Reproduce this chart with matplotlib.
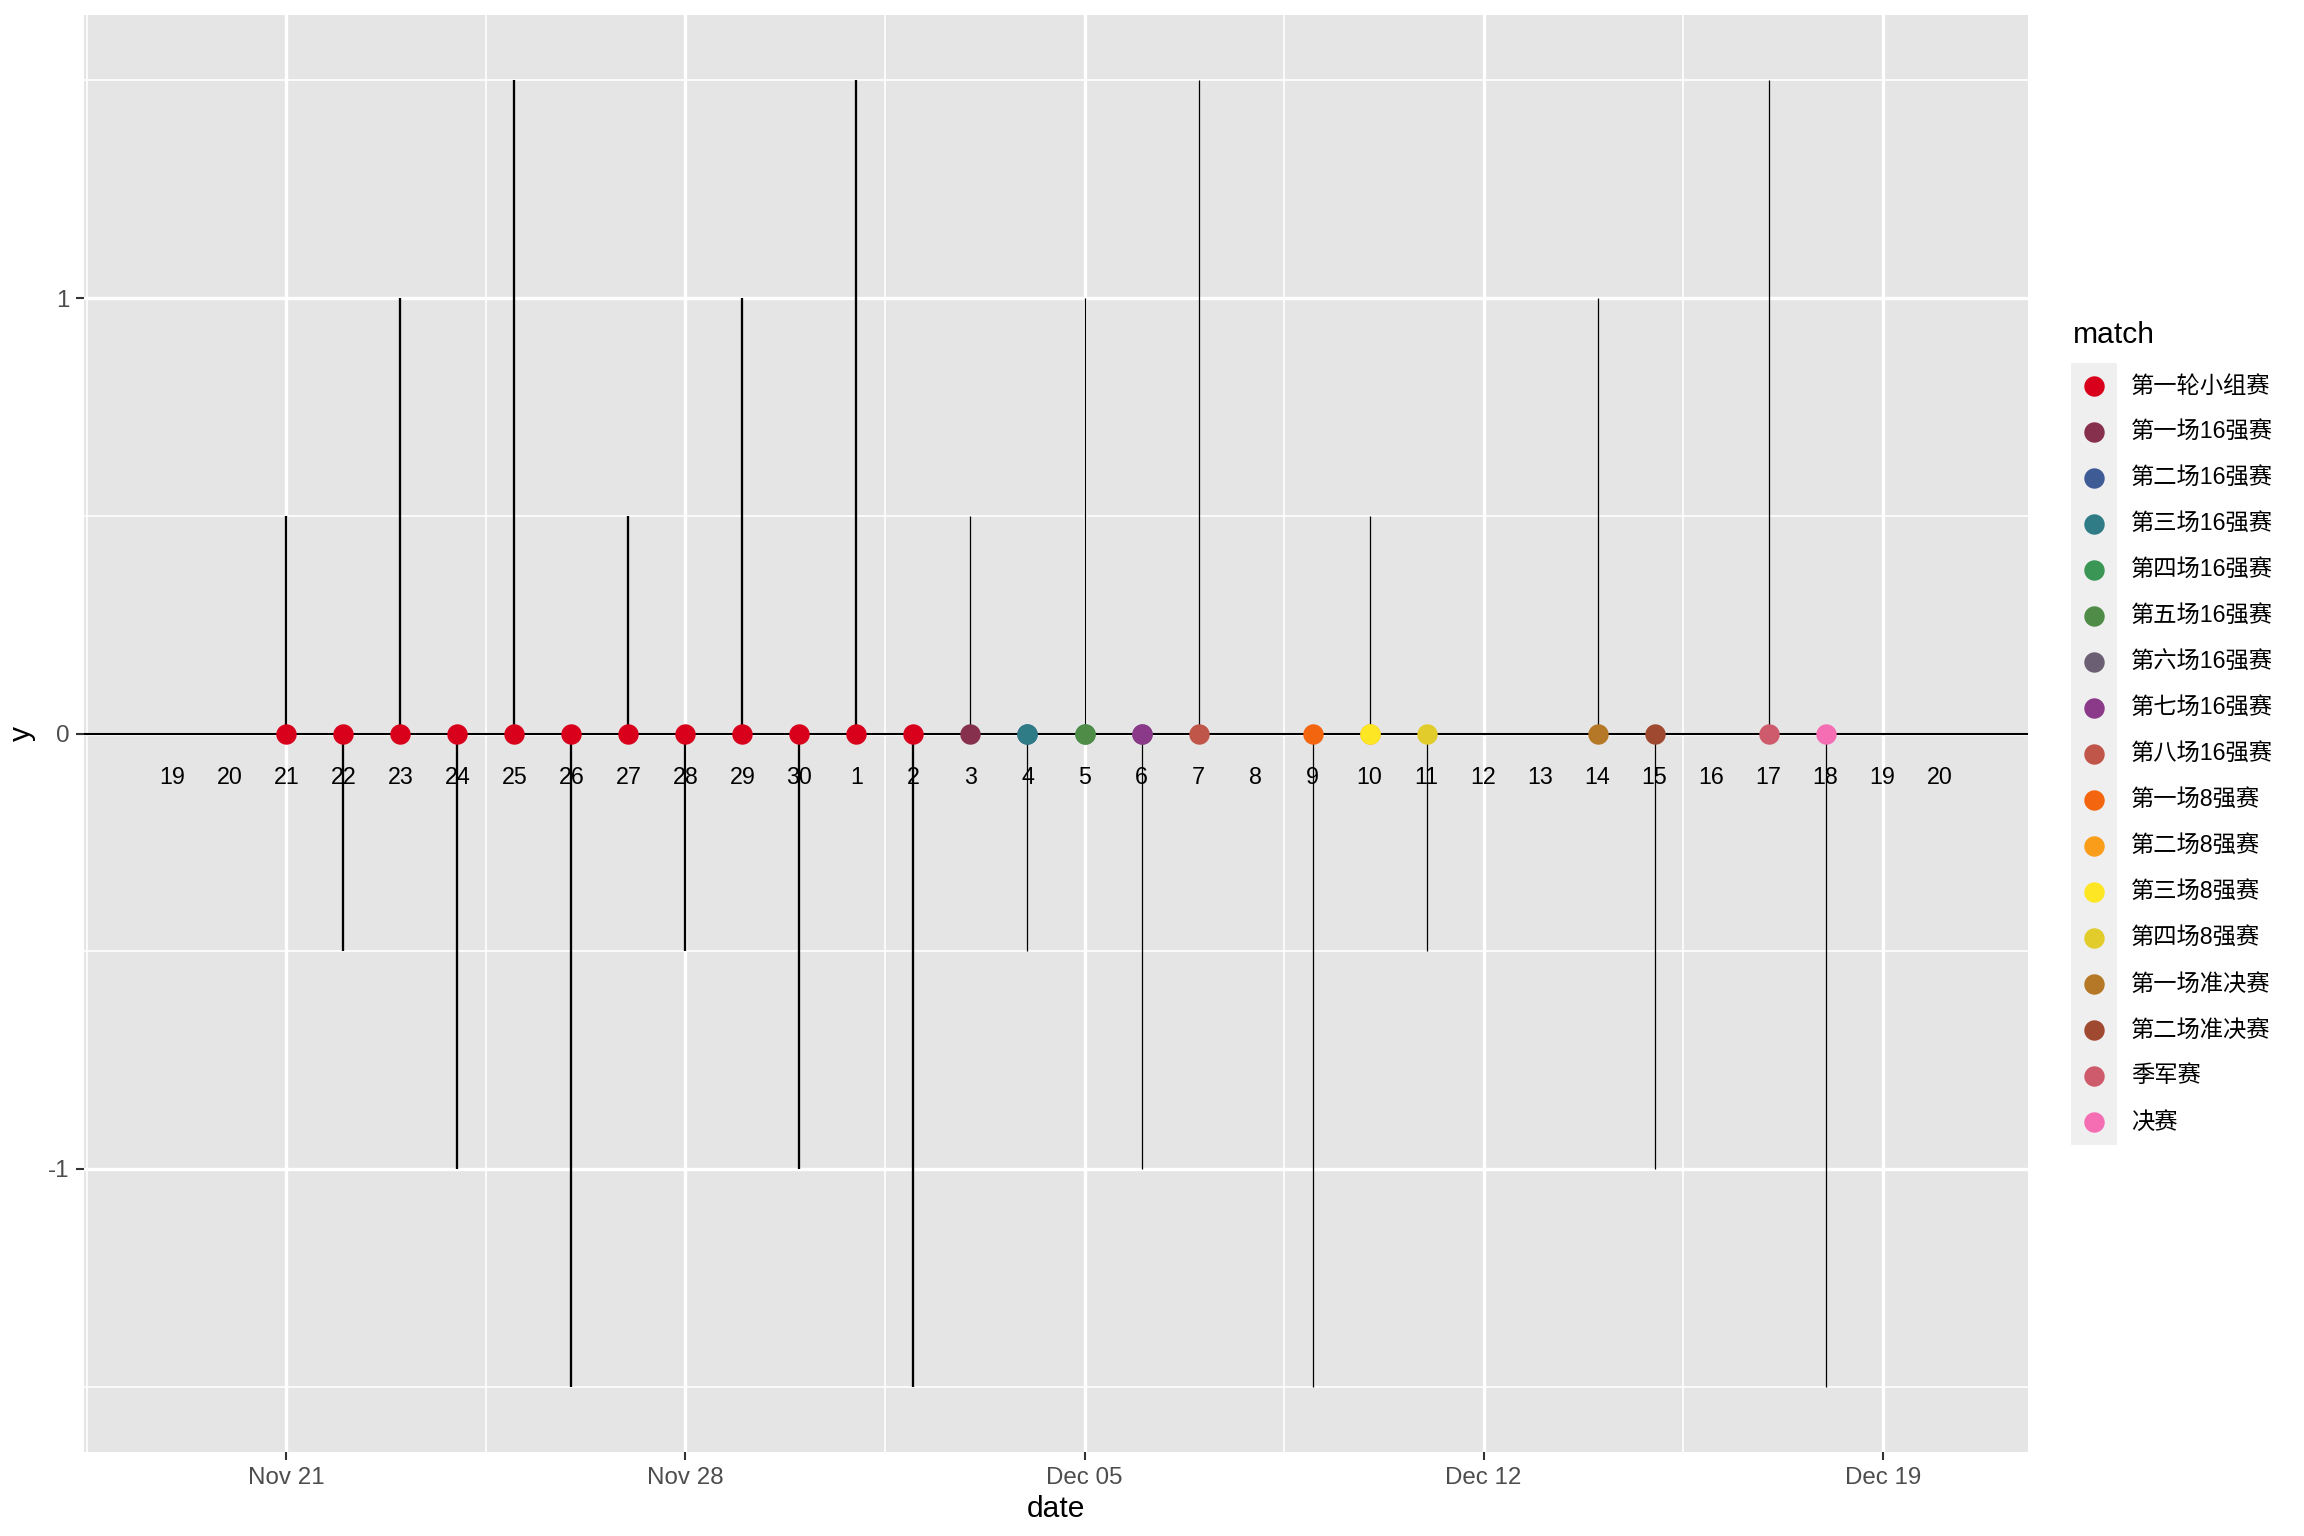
import datetime as dt
import matplotlib
matplotlib.use("Agg")
import matplotlib.pyplot as plt
import matplotlib.dates as mdates
from matplotlib.patches import Rectangle

plt.rcParams["font.family"] = ["Liberation Sans", "Noto Sans CJK SC", "DejaVu Sans"]
plt.rcParams["axes.unicode_minus"] = False

# ---------------------------------------
# Data
# ---------------------------------------
d = dt.date

# one point per match day (group stage), then knockout matches
match_names = [
    "第一轮小组赛", "第一场16强赛", "第二场16强赛", "第三场16强赛", "第四场16强赛",
    "第五场16强赛", "第六场16强赛", "第七场16强赛", "第八场16强赛",
    "第一场8强赛", "第二场8强赛", "第三场8强赛", "第四场8强赛",
    "第一场准决赛", "第二场准决赛", "季军赛", "决赛",
]
match_colors = [
    "#d8001b", "#86304d", "#3f5b95", "#2f7b86", "#399655",
    "#4e8c48", "#6b5f73", "#8b3a8a", "#c0554a",
    "#f4650f", "#f99d1b", "#fde725", "#e2cc2b",
    "#b47827", "#9f4a30", "#cd5b6c", "#f56db2",
]

group_dates = [d(2022, 11, 21), d(2022, 11, 22), d(2022, 11, 23), d(2022, 11, 24),
               d(2022, 11, 25), d(2022, 11, 26), d(2022, 11, 27), d(2022, 11, 28),
               d(2022, 11, 29), d(2022, 11, 30), d(2022, 12, 1), d(2022, 12, 2)]

knockout_names = match_names[1:]
knockout_dates = [d(2022, 12, 3), d(2022, 12, 4), d(2022, 12, 4), d(2022, 12, 5),
                  d(2022, 12, 5), d(2022, 12, 6), d(2022, 12, 6), d(2022, 12, 7),
                  d(2022, 12, 9), d(2022, 12, 10), d(2022, 12, 10), d(2022, 12, 11),
                  d(2022, 12, 14), d(2022, 12, 15), d(2022, 12, 17), d(2022, 12, 18)]

# stem heights per match day
seg_dates = group_dates + [d(2022, 12, 3), d(2022, 12, 4), d(2022, 12, 5), d(2022, 12, 6),
                           d(2022, 12, 7), d(2022, 12, 9), d(2022, 12, 10), d(2022, 12, 11),
                           d(2022, 12, 14), d(2022, 12, 15), d(2022, 12, 17), d(2022, 12, 18)]
seg_heights = [0.5, -0.5, 1, -1, 1.5, -1.5, 0.5, -0.5, 1, -1, 1.5, -1.5,
               0.5, -0.5, 1, -1, 1.5, -1.5, 0.5, -0.5, 1, -1, 1.5, -1.5]

# day-of-month labels along the axis
label_dates = [d(2022, 11, 19) + dt.timedelta(days=i) for i in range(32)]
label_y = -0.1

x_breaks = [d(2022, 11, 21), d(2022, 11, 28), d(2022, 12, 5), d(2022, 12, 12), d(2022, 12, 19)]
x_break_labels = ["Nov 21", "Nov 28", "Dec 05", "Dec 12", "Dec 19"]

# ---------------------------------------
# Plot
# ---------------------------------------
fig = plt.figure(figsize=(7.68, 5.12), dpi=300)
W, H = 2304, 1536
ax = fig.add_axes([84 / W, 1 - 1452 / H, (2028 - 84) / W, (1452 - 15) / H])
ax.set_facecolor("#E5E5E5")
for s in ax.spines.values():
    s.set_visible(False)

xmin = mdates.date2num(d(2022, 11, 19)) - 1.55
xmax = mdates.date2num(d(2022, 12, 20)) + 1.55
ax.set_xlim(xmin, xmax)
ax.set_ylim(-1.65, 1.65)

# grid
for x in [mdates.date2num(b) - 3.5 for b in x_breaks]:
    ax.axvline(x, color="white", lw=0.4, zorder=0)
for y in [-1.5, -0.5, 0.5, 1.5]:
    ax.axhline(y, color="white", lw=0.4, zorder=0)
for b in x_breaks:
    ax.axvline(mdates.date2num(b), color="white", lw=0.8, zorder=0)
for y in [-1, 0, 1]:
    ax.axhline(y, color="white", lw=0.8, zorder=0)

# baseline
ax.axhline(0, color="black", lw=0.5, zorder=2)

# stems
for sd, h in zip(seg_dates, seg_heights):
    lw = 0.55 if sd in group_dates else 0.3
    ax.vlines(mdates.date2num(sd), 0, h, color="black", lw=lw, zorder=2)

# points
color_of = dict(zip(match_names, match_colors))
ax.scatter(mdates.date2num(group_dates), [0] * len(group_dates),
           s=24, color=color_of["第一轮小组赛"], zorder=3, linewidths=0)
for name, kd in zip(knockout_names, knockout_dates):
    ax.scatter(mdates.date2num(kd), 0, s=24, color=color_of[name], zorder=3, linewidths=0)

# day labels
for ld in label_dates:
    ax.text(mdates.date2num(ld), label_y, str(ld.day), ha="center", va="center",
            fontsize=5.6, color="black", zorder=4)

ax.set_xticks(mdates.date2num(x_breaks))
ax.set_xticklabels(x_break_labels)
ax.set_yticks([-1, 0, 1])
ax.set_yticklabels(["-1", "0", "1"])
ax.tick_params(axis="both", length=2.0, width=0.5, color="#333333",
               labelsize=5.8, labelcolor="#4D4D4D", pad=1.5)
ax.set_xlabel("date", fontsize=7.2, labelpad=1.5)
ax.set_ylabel("y", fontsize=7.2, labelpad=3)

# legend (drawn in pixel space)
lax = fig.add_axes([2060 / W, 1 - 1160 / H, 240 / W, (1160 - 310) / H])
lax.set_xlim(2060, 2300)
lax.set_ylim(1160, 310)
lax.axis("off")
lax.text(2073, 335, "match", fontsize=7.2, ha="left", va="center")
lax.add_patch(Rectangle((2071, 363), 46, 46 * len(match_names), color="#EFEFEF", lw=0))
for i, (name, col) in enumerate(zip(match_names, match_colors)):
    yc = 363 + 23 + 46 * i
    lax.scatter(2094, yc, s=24, color=col, linewidths=0)
    lax.text(2131, yc, name, fontsize=5.6, ha="left", va="center")

fig.savefig("out.png", dpi=300)
